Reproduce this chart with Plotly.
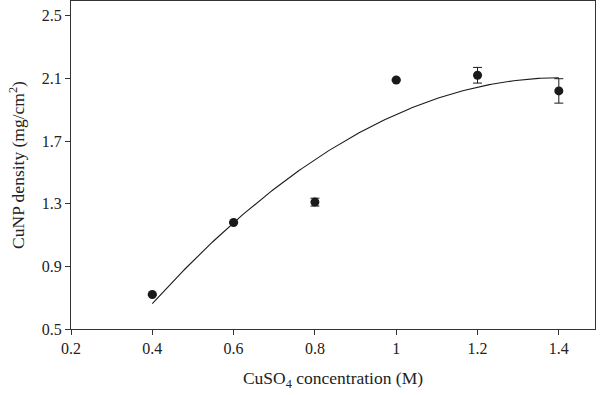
import numpy as np
import plotly.graph_objects as go

conc = [0.4, 0.6, 0.8, 1.0, 1.2, 1.4]
density = [0.72, 1.18, 1.31, 2.09, 2.12, 2.02]
err = [0.005, 0.005, 0.025, 0.005, 0.05, 0.078]
x_ticks = [0.2, 0.4, 0.6, 0.8, 1.0, 1.2, 1.4]
x_labels = ["0.2", "0.4", "0.6", "0.8", "1", "1.2", "1.4"]
y_ticks = [0.5, 0.9, 1.3, 1.7, 2.1, 2.5]
y_labels = ["0.5", "0.9", "1.3", "1.7", "2.1", "2.5"]

# second-order polynomial trend line fitted to the measured points
coef = np.polyfit(conc, density, 2)
xf = np.linspace(min(conc), max(conc), 200)
yf = np.polyval(coef, xf)

fig = go.Figure()
fig.add_trace(go.Scatter(x=xf, y=yf, mode="lines",
                         line=dict(color="#1a1a1a", width=1.1),
                         showlegend=False, hoverinfo="skip"))
fig.add_trace(go.Scatter(x=conc, y=density, mode="markers",
                         marker=dict(color="#1a1a1a", size=9),
                         error_y=dict(type="data", array=err, visible=True,
                                      color="#1a1a1a", thickness=1, width=4.5),
                         showlegend=False))

fam = "Liberation Serif, DejaVu Serif, serif"
tickfont = dict(family=fam, size=16, color="#222")
fig.update_layout(
    width=600, height=395,
    margin=dict(l=71, r=5, t=1, b=66),
    paper_bgcolor="white", plot_bgcolor="white",
    font=tickfont,
    xaxis=dict(range=[0.2, 1.489], tickvals=x_ticks, ticktext=x_labels,
               ticks="outside", ticklen=5, tickcolor="#333", tickwidth=1,
               tickfont=tickfont,
               showline=True, linecolor="#333", linewidth=1, mirror=True,
               showgrid=False, zeroline=False, automargin=False,
               title=dict(text="CuSO<sub>4</sub> concentration (M)",
                          font=dict(family=fam, size=17.5, color="#222"), standoff=15)),
    yaxis=dict(range=[0.5, 2.594], tickvals=y_ticks, ticktext=y_labels,
               ticks="outside", ticklen=5, tickcolor="#333", tickwidth=1,
               tickfont=tickfont,
               showline=True, linecolor="#333", linewidth=1, mirror=True,
               showgrid=False, zeroline=False, automargin=False,
               title=dict(text="CuNP density (mg/cm<sup>2</sup>)",
                          font=dict(family=fam, size=17.5, color="#222"), standoff=12)),
)
fig.write_html("out.html", config={"displayModeBar": False},
               post_script="document.body.style.margin='0px';")
